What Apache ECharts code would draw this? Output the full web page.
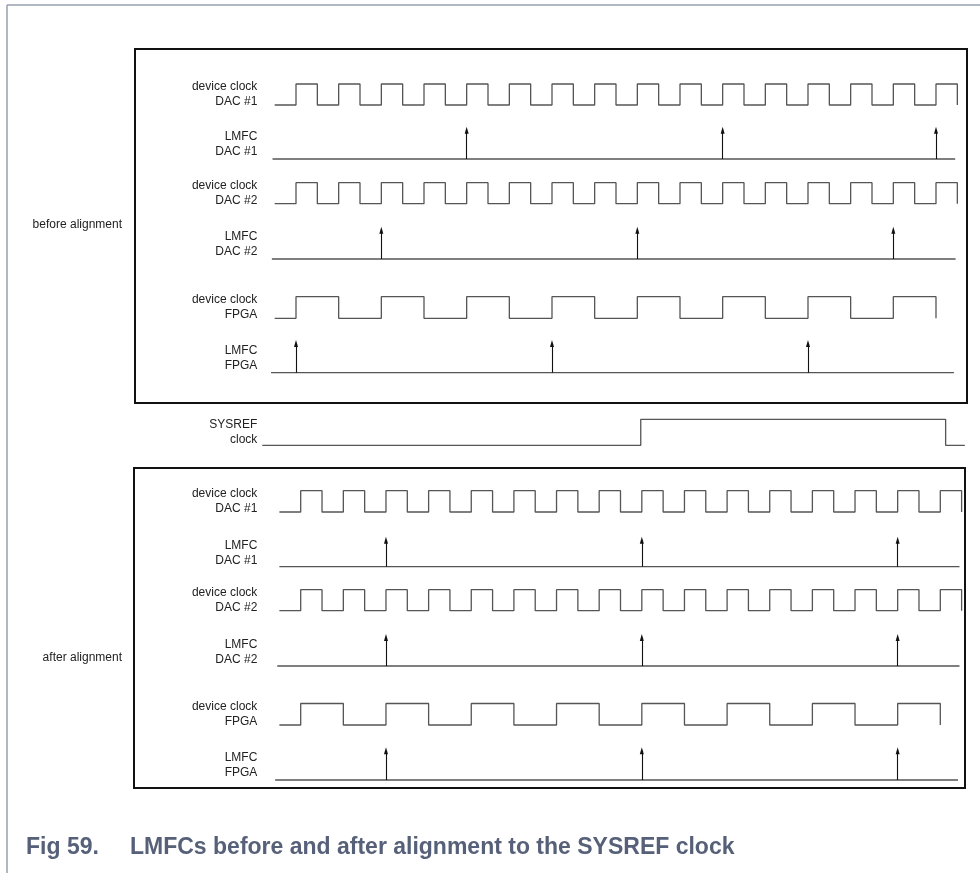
<!DOCTYPE html>
<html>
<head>
<meta charset="utf-8">
<script src="https://cdn.jsdelivr.net/npm/echarts@6/dist/echarts.min.js"></script>
<style>html,body{margin:0;padding:0;background:#fff}#c{width:980px;height:873px}</style>
</head>
<body>
<div id="c"></div>
<script>
// ---------------- DATA (time unit = half a DAC device-clock period) ----------------
const rowLabels = ['device clock\nDAC #1', 'LMFC\nDAC #1', 'device clock\nDAC #2', 'LMFC\nDAC #2', 'device clock\nFPGA', 'LMFC\nFPGA'];
const sysrefLabel = 'SYSREF\nclock';
const boxLabels = ['before alignment', 'after alignment'];
const captionNumber = 'Fig 59.';
const captionText = 'LMFCs before and after alignment to the SYSREF clock';

// clock edges (rising / falling alternately, starting low)
const clockStart = -1;
const dacClockEdges = [0, 1, 2, 3, 4, 5, 6, 7, 8, 9, 10, 11, 12, 13, 14, 15, 16, 17, 18, 19, 20, 21, 22, 23, 24, 25, 26, 27, 28, 29, 30, 31];
const fpgaClockEdges = [0, 2, 4, 6, 8, 10, 12, 14, 16, 18, 20, 22, 24, 26, 28, 30];

// LMFC pulses before alignment
const lmfcDac1Before = [8, 20, 30];
const lmfcDac2Before = [4, 16, 28];
const lmfcFpgaBefore = [0, 12, 24];
// LMFC pulses after alignment
const lmfcDac1After = [4, 16, 28];
const lmfcDac2After = [4, 16, 28];
const lmfcFpgaAfter = [4, 16, 28];
// LMFC baseline extents [start, end]
const lmfcSpanBefore = [[-1.1, 30.9], [-1.13, 30.92], [-1.17, 30.84]];
const lmfcSpanAfter = [[-1.0, 30.9], [-1.1, 30.9], [-1.2, 30.83]];

// SYSREF clock (after-alignment time base)
const sysrefStart = -1.8;
const sysrefEdges = [15.95, 30.25];
const sysrefEnd = 31.15;

// ---------------- LAYOUT ----------------
const FONT = '"Liberation Sans", Arial, Helvetica, sans-serif';
const LABEL_RIGHT = 257.3;
const boxes = [
  { x0: 296, half: 21.333, tMin: -1.5, tMax: 32, rect: [135, 49, 967, 403],
    rows: [[84, 105], [130.2, 159], [182.7, 203.7], [230.2, 259], [296.7, 318.3], [343.5, 372.7]],
    labelY: [92.7, 148, 194.5, 247, 305.3, 359.2],
    lmfc: [lmfcDac1Before, lmfcDac2Before, lmfcFpgaBefore], span: lmfcSpanBefore },
  { x0: 300.7, half: 21.32, tMin: -1.5, tMax: 32, rect: [134, 468, 965, 788],
    rows: [[490.7, 512], [540.2, 566.7], [589.7, 610.7], [637.5, 666], [703.5, 725], [750.8, 780]],
    labelY: [498.3, 553.3, 598, 652, 713, 766.5],
    lmfc: [lmfcDac1After, lmfcDac2After, lmfcFpgaAfter], span: lmfcSpanAfter }
];
const sysrefRow = [419.3, 445.3], sysrefLabelY = 435.8;

const WAVE = { color: '#555', width: 1.3 };
const ARROW = { color: '#111', width: 1.1 };

function squareWave(start, edges, end) {
  const pts = [[start, 0]];
  let level = 0;
  edges.forEach(e => { pts.push([e, level]); level = 1 - level; pts.push([e, level]); });
  if (end !== undefined) pts.push([end, level]);
  return pts;
}

const grids = [], xAxes = [], yAxes = [], series = [];

boxes.forEach(b => {
  const gi = grids.length;
  grids.push({ left: b.rect[0], top: b.rect[1], width: b.rect[2] - b.rect[0], height: b.rect[3] - b.rect[1],
    show: true, borderColor: '#111', borderWidth: 2, backgroundColor: 'transparent', outerBoundsMode: 'none', containLabel: false });
  xAxes.push({ gridIndex: gi, type: 'value', show: false, min: 0, max: 1 });
  yAxes.push({ gridIndex: gi, type: 'value', show: false, min: 0, max: 1 });
});

function addRowGrid(x0, half, tMin, tMax, row, label, labelY) {
  const left = x0 + tMin * half, right = x0 + tMax * half;
  const gi = grids.length;
  grids.push({ left: left, top: row[0], width: right - left, height: row[1] - row[0], show: false, outerBoundsMode: 'none', containLabel: false });
  xAxes.push({ gridIndex: gi, type: 'value', min: tMin, max: tMax, show: false });
  const shift = labelY - (row[0] + row[1]) / 2;
  yAxes.push({ gridIndex: gi, type: 'value', min: 0, max: 1, show: true,
    axisLine: { show: false }, axisTick: { show: false }, axisLabel: { show: false }, splitLine: { show: false },
    name: label, nameLocation: 'middle', nameRotate: 0, nameGap: left - LABEL_RIGHT, nameMoveOverlap: false,
    nameTextStyle: { color: '#222', fontFamily: FONT, fontSize: 12, lineHeight: 15, align: 'right', verticalAlign: 'middle',
      padding: shift > 0 ? [2 * shift, 0, 0, 0] : [0, 0, -2 * shift, 0] } });
  return gi;
}

function clockSeries(gi, edges) {
  return { type: 'line', xAxisIndex: gi, yAxisIndex: gi, data: squareWave(clockStart, edges), symbol: 'none', showSymbol: false,
    lineStyle: WAVE, clip: false, silent: true, animation: false, z: 3 };
}
function lmfcSeries(gi, span, arrows) {
  return { type: 'line', xAxisIndex: gi, yAxisIndex: gi, data: [[span[0], 0], [span[1], 0]], symbol: 'none', showSymbol: false,
    lineStyle: WAVE, clip: false, silent: true, animation: false, z: 3,
    markLine: { silent: true, animation: false, symbol: ['none', 'triangle'], label: { show: false },
      lineStyle: { color: ARROW.color, width: ARROW.width, type: 'solid' }, emphasis: { disabled: true },
      itemStyle: { color: ARROW.color },
      data: arrows.map(t => [{ coord: [t, 0], symbol: 'none' }, { coord: [t, 1], symbol: 'triangle', symbolSize: [4, 7] }]) } };
}

boxes.forEach(b => {
  for (let r = 0; r < 6; r++) {
    const gi = addRowGrid(b.x0, b.half, b.tMin, b.tMax, b.rows[r], rowLabels[r], b.labelY[r]);
    if (r % 2 === 0) {
      series.push(clockSeries(gi, r === 4 ? fpgaClockEdges : dacClockEdges));
    } else {
      const k = (r - 1) / 2;
      series.push(lmfcSeries(gi, b.span[k], b.lmfc[k]));
    }
  }
});

// SYSREF row uses the after-alignment time base
{
  const b = boxes[1];
  const gi = addRowGrid(b.x0, b.half, -2, b.tMax, sysrefRow, sysrefLabel, sysrefLabelY);
  series.push({ type: 'line', xAxisIndex: gi, yAxisIndex: gi, data: squareWave(sysrefStart, sysrefEdges, sysrefEnd),
    symbol: 'none', showSymbol: false, lineStyle: WAVE, clip: false, silent: true, animation: false, z: 3 });
}

const chart = echarts.init(document.getElementById('c'), null, { renderer: 'canvas' });
chart.setOption({
  animation: false,
  backgroundColor: '#fff',
  grid: grids, xAxis: xAxes, yAxis: yAxes, series: series,
  graphic: [
    { type: 'line', silent: true, shape: { x1: 7, y1: 5, x2: 980, y2: 5 }, style: { stroke: '#97a0b0', lineWidth: 1.5 } },
    { type: 'line', silent: true, shape: { x1: 7, y1: 5, x2: 7, y2: 873 }, style: { stroke: '#97a0b0', lineWidth: 1.5 } },
    { type: 'text', silent: true, x: 122, y: 225, style: { text: boxLabels[0], align: 'right', verticalAlign: 'middle', fontSize: 12, fontFamily: FONT, fill: '#222' } },
    { type: 'text', silent: true, x: 122, y: 658, style: { text: boxLabels[1], align: 'right', verticalAlign: 'middle', fontSize: 12, fontFamily: FONT, fill: '#222' } },
    { type: 'text', silent: true, x: 26, y: 848, style: { text: captionNumber, align: 'left', verticalAlign: 'middle', fontSize: 23, fontWeight: 'bold', fontFamily: FONT, fill: '#566078' } },
    { type: 'text', silent: true, x: 130, y: 848, style: { text: captionText, align: 'left', verticalAlign: 'middle', fontSize: 23, fontWeight: 'bold', fontFamily: FONT, fill: '#566078' } }
  ]
});
</script>
</body>
</html>
